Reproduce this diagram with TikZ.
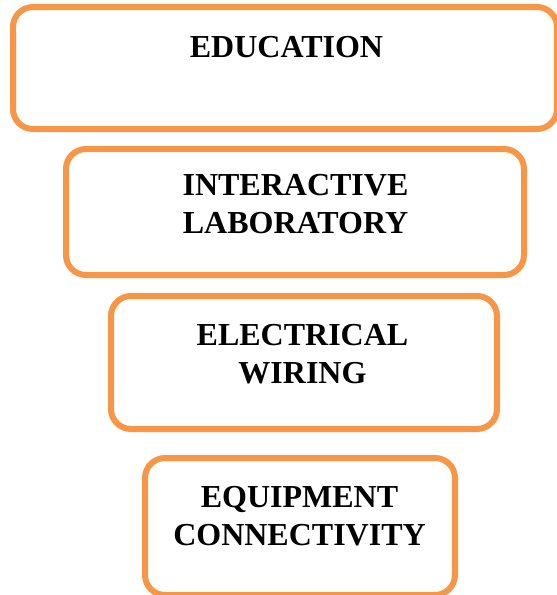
\documentclass[tikz,border=0pt]{standalone}
\usepackage{fontspec}
\setmainfont{Liberation Serif}
\definecolor{boxorange}{HTML}{F79646}
\begin{document}
\begin{tikzpicture}[x=1pt,y=-1pt,
  box/.style={draw=boxorange,line width=6pt,rounded corners=20pt,inner sep=0pt,outer sep=0pt,anchor=north west},
  label/.style={inner sep=0pt,anchor=north,align=center,font=\fontsize{32}{38}\selectfont\bfseries}]
\useasboundingbox (0,0) rectangle (557,595);
\begin{scope}
\clip (0,0) rectangle (557,595);
\node[box,minimum width=544pt,minimum height=122pt] (b1) at (13,7) {};
\node[box,minimum width=458pt,minimum height=126pt] (b2) at (66,149) {};
\node[box,minimum width=386pt,minimum height=133pt] (b3) at (111,296) {};
\node[box,minimum width=310pt,minimum height=137pt] (b4) at (145,458) {};
\end{scope}
\node[label] (t1) at (286.5,36) {EDUCATION};
\node[label] (t2) at (295.5,174) {INTERACTIVE\\LABORATORY};
\node[label] (t3) at (302.5,324) {ELECTRICAL\\WIRING};
\node[label] (t4) at (299.5,486) {EQUIPMENT\\CONNECTIVITY};
\end{tikzpicture}
\end{document}
